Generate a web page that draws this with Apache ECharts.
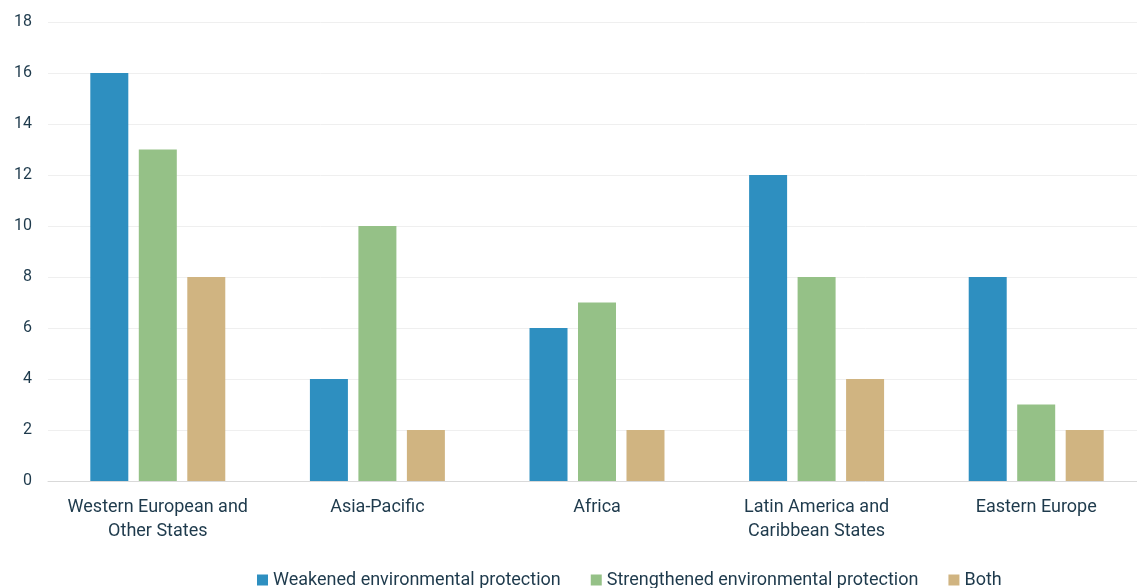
<!DOCTYPE html>
<html><head><meta charset="utf-8">
<script src="https://cdn.jsdelivr.net/npm/echarts@6/dist/echarts.min.js"></script>
<style>html,body{margin:0;padding:0;background:#fff}#c{width:1137px;height:588px}</style>
</head><body><div id="c"></div>
<script>
const categories = ["Western European and\nOther States", "Asia-Pacific", "Africa", "Latin America and\nCaribbean States", "Eastern Europe"];
const weakened = [16, 4, 6, 12, 8];
const strengthened = [13, 10, 7, 8, 3];
const both = [8, 2, 2, 4, 2];
const seriesNames = ["Weakened environmental protection", "Strengthened environmental protection", "Both"];
const colors = ["#2e8fc0", "#95c187", "#d0b481"];
const textColor = "#1e3a4c";
const chart = echarts.init(document.getElementById('c'));
chart.setOption({
  animation: false,
  textStyle: {fontFamily: 'Roboto'},
  grid: {left: 48, width: 1098, top: 22, height: 459, outerBoundsMode: 'none', containLabel: false},
  legend: {
    top: 566, left: 252, itemWidth: 11, itemHeight: 11, itemGap: 30,
    icon: 'rect',
    textStyle: {fontSize: 18, color: textColor, fontFamily: 'Roboto'},
    data: seriesNames
  },
  xAxis: {
    type: 'category', data: categories,
    axisLine: {lineStyle: {color: '#d9d9d9', width: 1}},
    axisTick: {show: false},
    axisLabel: {fontSize: 18, color: textColor, lineHeight: 24, margin: 14, interval: 0}
  },
  yAxis: {
    type: 'value', min: 0, max: 18, interval: 2,
    axisLine: {show: false}, axisTick: {show: false},
    splitLine: {lineStyle: {color: '#efefef'}},
    axisLabel: {fontSize: 16, color: textColor, margin: 16, align: 'right'}
  },
  series: [
    {name: seriesNames[0], type: 'bar', data: weakened, barWidth: 38, barGap: '27.6%', itemStyle: {color: colors[0]}},
    {name: seriesNames[1], type: 'bar', data: strengthened, barWidth: 38, barGap: '27.6%', itemStyle: {color: colors[1]}},
    {name: seriesNames[2], type: 'bar', data: both, barWidth: 38, barGap: '27.6%', itemStyle: {color: colors[2]}}
  ]
});
</script></body></html>
